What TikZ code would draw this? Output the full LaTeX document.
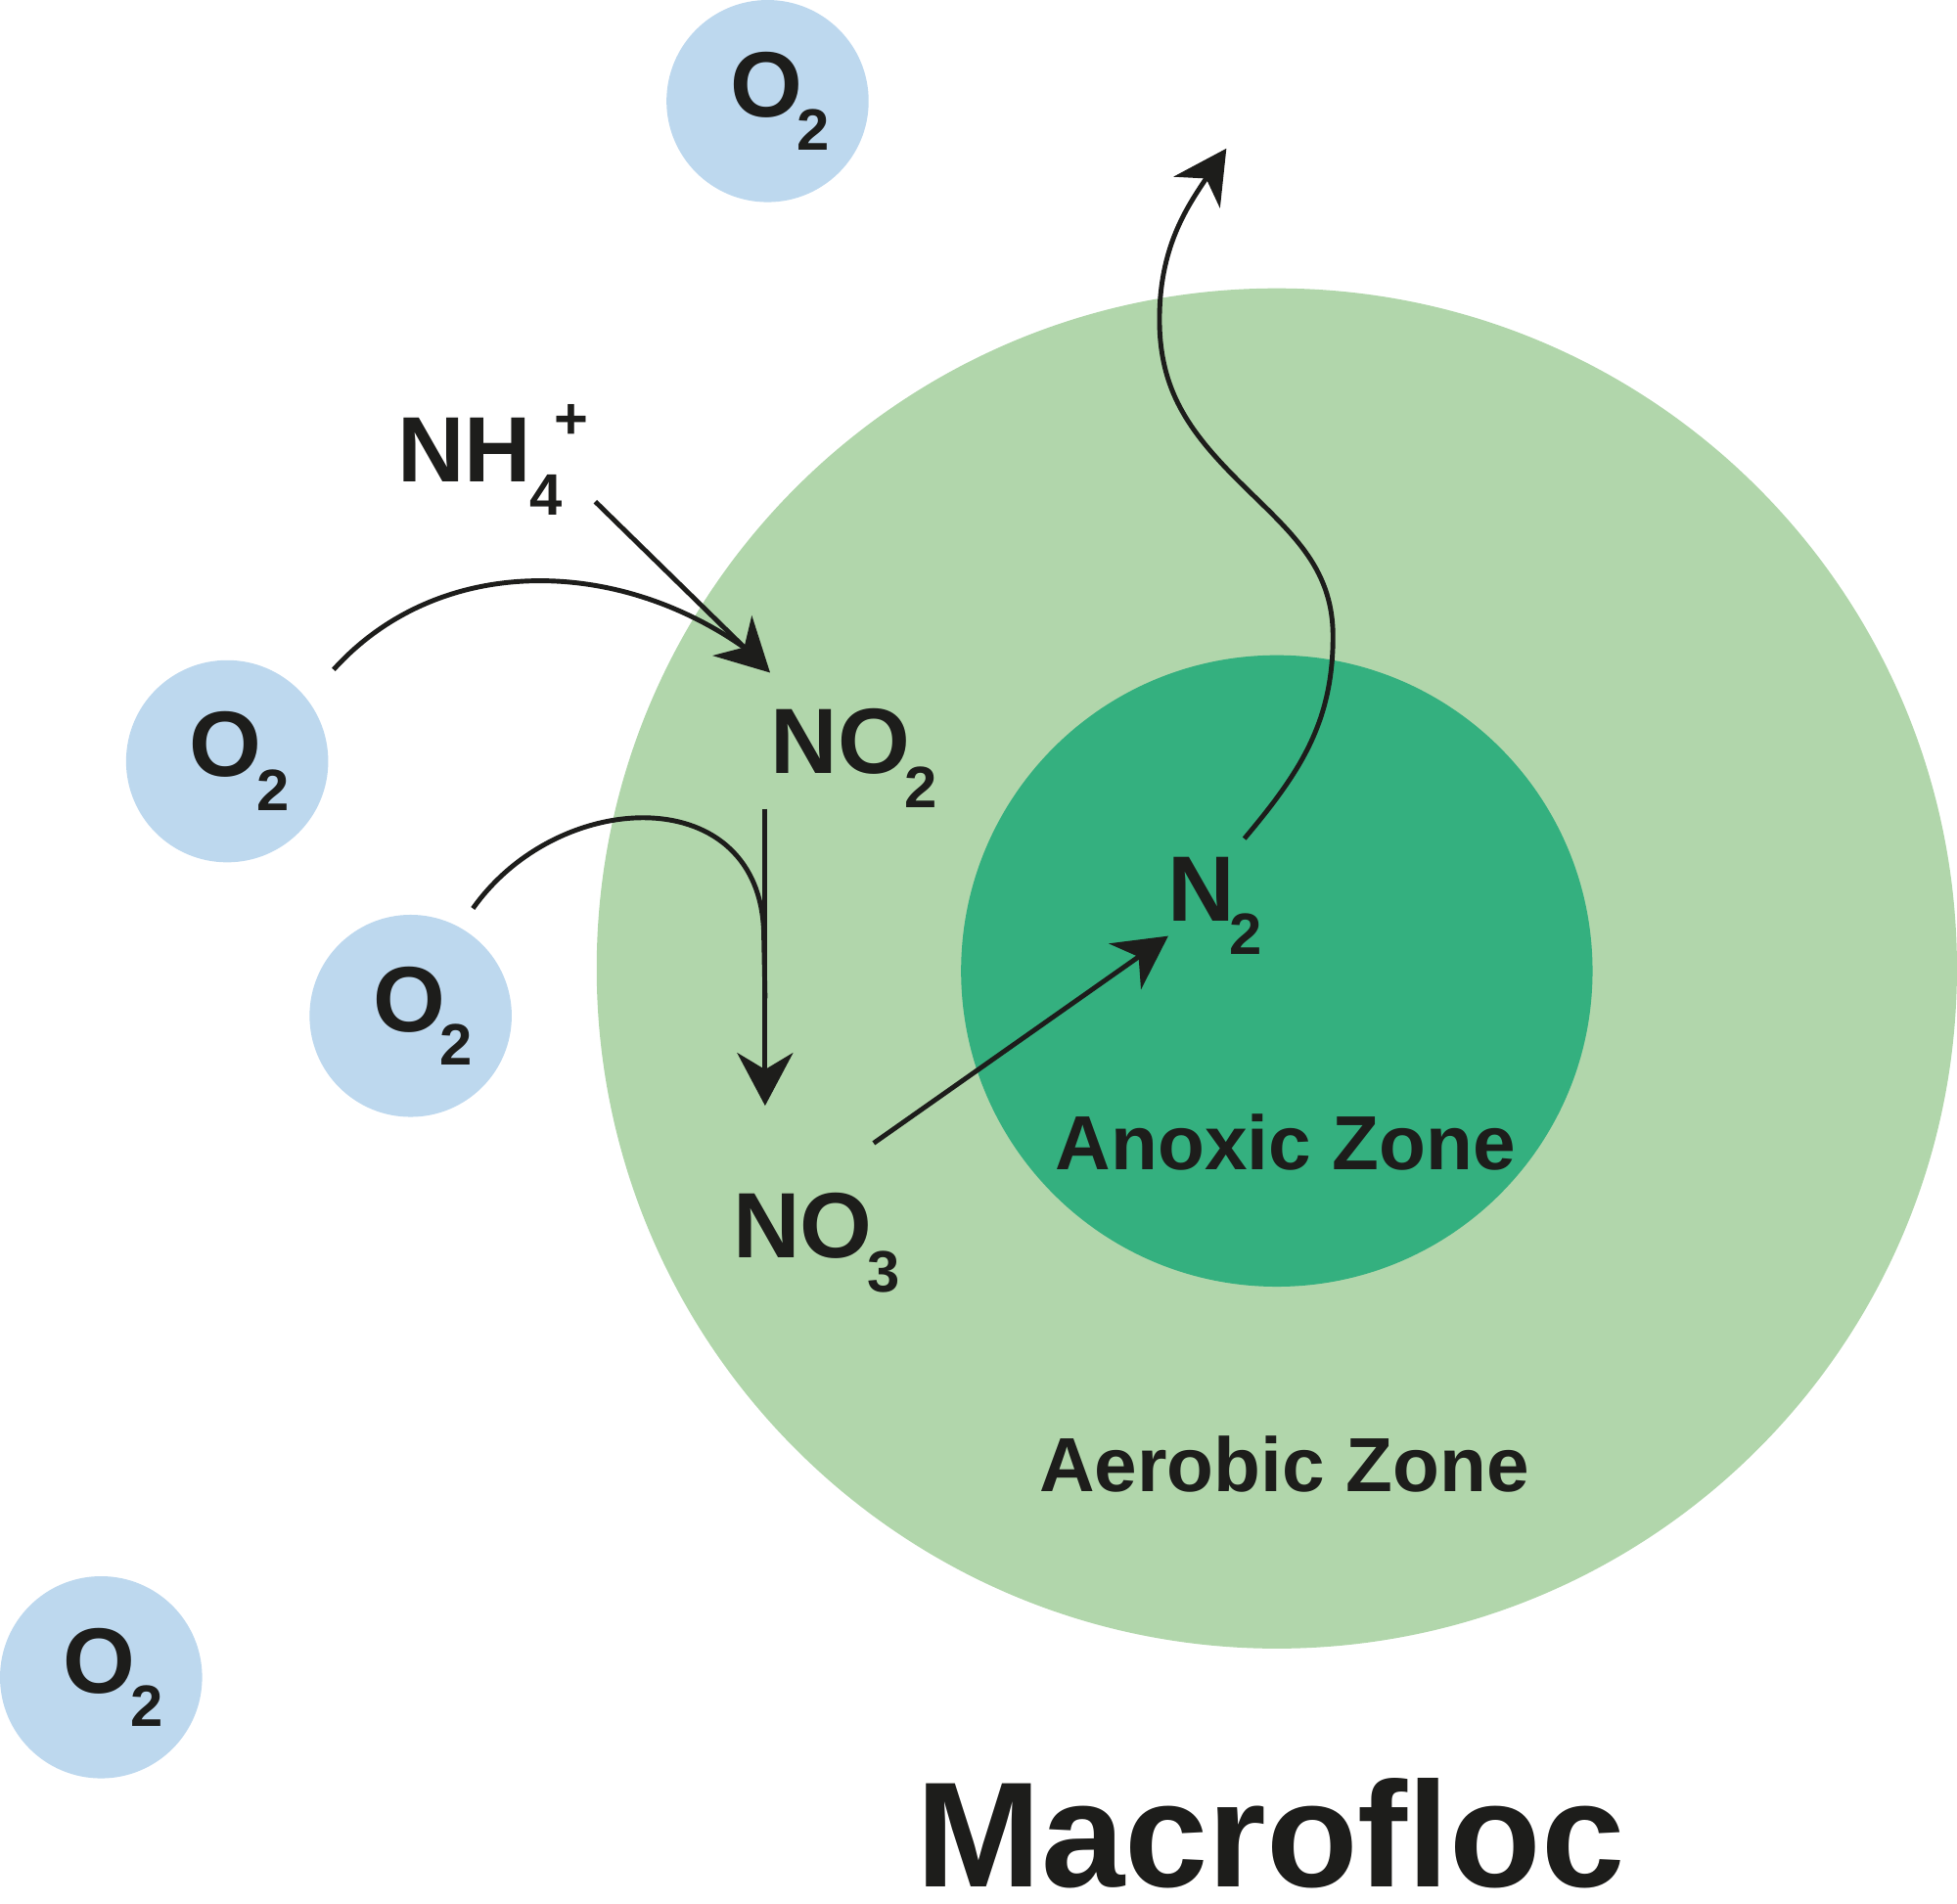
\documentclass[tikz,border=0pt]{standalone}
\usepackage{fontspec}
\setmainfont{Liberation Sans}
\usetikzlibrary{arrows.meta}
\definecolor{AerobicGreen}{HTML}{B1D6AB}
\definecolor{AnoxicGreen}{HTML}{34B07F}
\definecolor{OxygenBlue}{HTML}{BDD8EE}
\definecolor{InkBlack}{HTML}{1D1D1B}
\newcommand{\chemsub}[2]{#1\kern-1.5pt\raisebox{-9.8pt}{\fontsize{17}{17}\selectfont #2}}
\newcommand{\oxy}{\chemsub{O}{2}\kern-0.25cm}
\tikzset{
  zone/.style={circle,draw=none,inner sep=0pt},
  aerobic/.style={zone,fill=AerobicGreen,minimum size=13.903cm},
  anoxic/.style={zone,fill=AnoxicGreen,minimum size=6.454cm},
  oxygen/.style={zone,fill=OxygenBlue,minimum size=2.066cm,
    font=\fontsize{27}{27}\selectfont\bfseries\color{InkBlack}},
  species/.style={inner sep=0pt,anchor=base west,
    font=\fontsize{27}{27}\selectfont\bfseries\color{InkBlack}},
  zonelabel/.style={inner sep=0pt,anchor=base,
    font=\fontsize{22.3}{24}\selectfont\bfseries\color{InkBlack}},
  titlelabel/.style={inner sep=0pt,anchor=base,
    font=\fontsize{43.6}{46}\selectfont\bfseries\color{InkBlack}},
  flow/.style={line width=1.4pt,draw=InkBlack},
  flowarrow/.style={flow,-{Stealth[length=0.54cm,width=0.57cm,inset=0.17cm]}},
}
\begin{document}
\begin{tikzpicture}[x=0.012755cm,y=-0.012755cm]
  \useasboundingbox (0,0) rectangle (1568,1525);
  \node[aerobic] (aerobiczone) at (1023,776) {};
  \node[anoxic] (anoxiczone) at (1023,778) {};
  \node[oxygen] (o2a) at (615,81) {\oxy};
  \node[oxygen] (o2b) at (182,610) {\oxy};
  \node[oxygen] (o2c) at (329,814) {\oxy};
  \node[oxygen] (o2d) at (81,1344) {\oxy};
  \node[species] (nh4) at (318,386) {NH\kern-0.5pt\raisebox{-9.8pt}{\fontsize{17}{17}\selectfont 4}\kern-2.5pt\raisebox{12.5pt}{\fontsize{17}{17}\selectfont +}};
  \node[species] (no2) at (617,620) {\chemsub{NO}{2}};
  \node[species] (no3) at (587,1008) {\chemsub{NO}{3}};
  \node[species] (n2) at (935,738) {\chemsub{N}{2}};
  \node[zonelabel] (anoxiclabel) at (1030,937) {Anoxic Zone};
  \node[zonelabel] (aerobiclabel) at (1029,1195) {Aerobic Zone};
  \node[titlelabel] (macrofloc) at (1018,1512) {Macrofloc};
  \coordinate (nhout) at (477,402);
  \coordinate (no2in) at (617,539);
  \coordinate (arcjoin) at (595,518);
  \coordinate (no2out) at (613,648);
  \coordinate (no3in) at (613,886);
  \coordinate (arcdrop) at (612,750);
  \coordinate (no3out) at (700,916);
  \coordinate (n2in) at (936,750);
  \coordinate (n2out) at (997,672);
  \coordinate (escape) at (982.6,119);
  \draw[flowarrow] (nhout) -- (no2in);
  \draw[flow,shorten <=0.4cm] (o2b.38) .. controls (350,445) and (490,445) .. (arcjoin);
  \draw[flowarrow] (no2out) -- (no3in);
  \draw[flow,shorten <=0.23cm] (o2c.61) .. controls (448,630) and (611,625) .. (arcdrop) -- (613,800);
  \draw[flowarrow] (no3out) -- (n2in);
  \draw[flowarrow] (n2out) to[out=50,in=-90] (1068,510) to[out=90,in=-45] (992,385)
    to[out=135,in=-90] (929,256) to[out=90,in=-124] (escape);
\end{tikzpicture}
\end{document}
